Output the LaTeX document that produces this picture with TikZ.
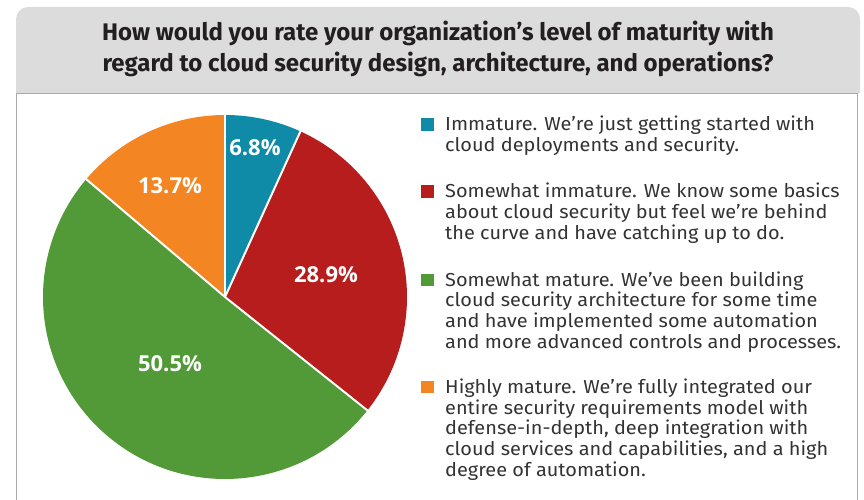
\documentclass[tikz,border=0pt]{standalone}
\usepackage{fontspec}
\setmainfont{Fira Sans}
\newfontfamily\titlefont{Fira Sans}
\newfontfamily\legfont{Fira Sans}[FakeStretch=1.06]
\newfontfamily\pctfont{Open Sans}
\definecolor{headgray}{HTML}{DCDCDD}
\definecolor{framegray}{HTML}{A9A9B0}
\definecolor{inkdark}{HTML}{231F20}
\definecolor{inktext}{HTML}{333333}
\definecolor{cblue}{HTML}{0F8BA8}
\definecolor{cred}{HTML}{B71D1D}
\definecolor{cgreen}{HTML}{529937}
\definecolor{corange}{HTML}{F38622}
\tikzset{
  titletext/.style={font=\titlefont\bfseries\fontsize{24}{31}\selectfont, text=inkdark, inner sep=0pt, anchor=base},
  legtext/.style={font=\legfont\fontsize{18.8}{20.8}\selectfont, text=inktext, inner sep=0pt, anchor=base west},
  legkey/.style={minimum width=13pt, minimum height=12.5pt, inner sep=0pt, anchor=north west},
  pct/.style={font=\pctfont\bfseries\fontsize{22}{24}\selectfont, text=white, inner sep=0pt},
  sep/.style={white, line width=2pt},
}
\begin{document}
\begin{tikzpicture}[x=1pt,y=1pt]
\useasboundingbox (0,0) rectangle (864,-500);
% header band with rounded top corners
\fill[headgray] (16,-93.5) [rounded corners=12pt] -- (16,-7) -- (860,-7) [sharp corners] -- (860,-93.5) -- cycle;
% frame of the chart panel
\draw[framegray, line width=1.5pt] (16.5,-500) -- (16.5,-93.5) -- (857.5,-93.5) -- (857.5,-500);

% title
\node[titletext] (t1) at (438,-40.7) {How would you rate your organization’s level of maturity with};
\node[titletext] (t2) at (438,-71.7) {regard to cloud security design, architecture, and operations?};

% pie chart
\coordinate (c) at (225,-297);
\def\R{182}
\fill[cblue]   (c) -- ++(90:\R) arc[start angle=90, end angle=65.52, radius=\R] -- cycle;
\fill[cred]    (c) -- ++(65.52:\R) arc[start angle=65.52, end angle=-38.52, radius=\R] -- cycle;
\fill[cgreen]  (c) -- ++(-38.52:\R) arc[start angle=-38.52, end angle=-220.32, radius=\R] -- cycle;
\fill[corange] (c) -- ++(-220.32:\R) arc[start angle=-220.32, end angle=-270, radius=\R] -- cycle;
\foreach \a in {90,65.52,-38.52,-220.32}
  \draw[sep] (c) -- ++(\a:\R+1);

\node[pct] (p1) at (255,-148) {6.8\%};
\node[pct] (p2) at (326,-274.5) {28.9\%};
\node[pct] (p3) at (170,-364) {50.5\%};
\node[pct] (p4) at (170,-186) {13.7\%};

% legend
\node[legkey, fill=cblue]   (k1) at (421,-118.3) {};
\node[legtext] (l1a) at (445,-131) {Immature. We’re just getting started with};
\node[legtext] (l1b) at (445,-151.8) {cloud deployments and security.};

\node[legkey, fill=cred]    (k2) at (421,-184.9) {};
\node[legtext] (l2a) at (445,-197.6) {Somewhat immature. We know some basics};
\node[legtext] (l2b) at (445,-218.4) {about cloud security but feel we’re behind};
\node[legtext] (l2c) at (445,-239.2) {the curve and have catching up to do.};

\node[legkey, fill=cgreen]  (k3) at (421,-273.3) {};
\node[legtext] (l3a) at (445,-286) {Somewhat mature. We’ve been building};
\node[legtext] (l3b) at (445,-306.8) {cloud security architecture for some time};
\node[legtext] (l3c) at (445,-327.6) {and have implemented some automation};
\node[legtext] (l3d) at (445,-348.4) {and more advanced controls and processes.};

\node[legkey, fill=corange] (k4) at (421,-380.6) {};
\node[legtext] (l4a) at (445,-393.3) {Highly mature. We’re fully integrated our};
\node[legtext] (l4b) at (445,-414.1) {entire security requirements model with};
\node[legtext] (l4c) at (445,-434.9) {defense-in-depth, deep integration with};
\node[legtext] (l4d) at (445,-455.7) {cloud services and capabilities, and a high};
\node[legtext] (l4e) at (445,-476.5) {degree of automation.};
\end{tikzpicture}
\end{document}
